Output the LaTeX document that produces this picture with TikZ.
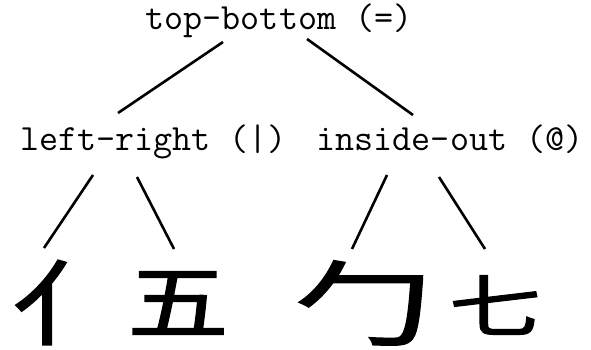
\documentclass[tikz,border=0pt]{standalone}
\usepackage{fontspec}
\newfontfamily\cjk[FakeBold=1.5]{Noto Sans CJK SC}
\begin{document}
\begin{tikzpicture}[x=1pt,y=-1pt,
  lbl/.style={font=\ttfamily\fontsize{37}{42}\selectfont, inner sep=0pt, anchor=base},
  glyph/.style={font=\cjk\fontsize{92}{100}\selectfont, inner sep=0pt, anchor=center, transform shape},
  edge/.style={line width=2.6pt}]
\useasboundingbox (0,0) rectangle (591,350);
% labels
\node[lbl] (top) at (279,30) {top-bottom (=)};
\node[lbl] (lr) at (153.5,150) {left-right (|)};
\node[lbl] (io) at (450,150) {inside-out (@)};
% components
\node[glyph, xscale=1.22] (c1) at (68.5,302.5) {亻};
\node[glyph, xscale=1.1, yscale=0.89] (c2) at (178,303) {五};
\node[glyph, xscale=1.5] (c3) at (363,303) {勹};
\node[glyph, yscale=0.74] (c4) at (495,305) {七};
% connector end points
\coordinate (top-l) at (223,42);
\coordinate (top-r) at (307,39);
\coordinate (lr-t) at (118,113);
\coordinate (io-t) at (413,115);
\coordinate (lr-l) at (93,175);
\coordinate (lr-r) at (137,177);
\coordinate (io-l) at (387,175);
\coordinate (io-r) at (439,177);
\coordinate (c1-t) at (44,248);
\coordinate (c2-t) at (174,249);
\coordinate (c3-t) at (352,249);
\coordinate (c4-t) at (485,249);
% connectors
\draw[edge] (top-l) -- (lr-t);
\draw[edge] (top-r) -- (io-t);
\draw[edge] (lr-l) -- (c1-t);
\draw[edge] (lr-r) -- (c2-t);
\draw[edge] (io-l) -- (c3-t);
\draw[edge] (io-r) -- (c4-t);
\end{tikzpicture}
\end{document}
